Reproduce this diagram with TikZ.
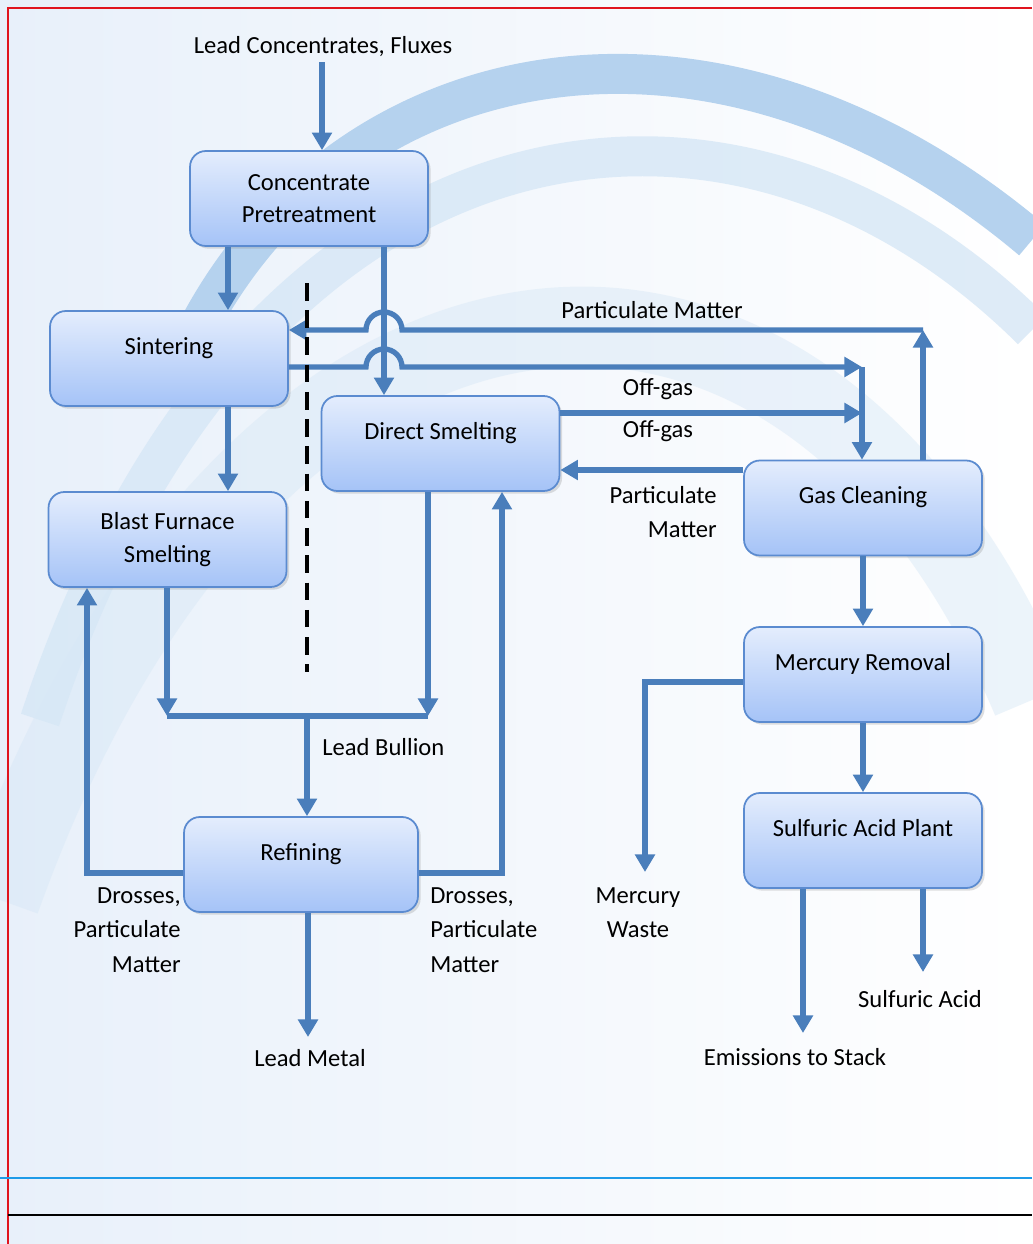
\documentclass[tikz,border=0pt]{standalone}
\usepackage{fontspec}
\setmainfont{Carlito}
\usetikzlibrary{arrows.meta,shadows}
\definecolor{flowblue}{HTML}{4A7EBB}
\definecolor{boxedge}{HTML}{5B8BD0}
\definecolor{boxtop}{HTML}{E4EDFD}
\definecolor{boxbottom}{HTML}{A5C3F7}
\definecolor{bgleft}{HTML}{E8F0FA}
\definecolor{swooshdark}{HTML}{B5D2EE}
\definecolor{swooshlight}{HTML}{D6E7F6}
\definecolor{pagered}{HTML}{E0141E}
\definecolor{ruleblue}{HTML}{1E9BE8}
\tikzset{
  procbox/.style={draw=boxedge, line width=1pt, rounded corners=9pt,
    top color=boxtop, bottom color=boxbottom,
    minimum width=4.76cm, minimum height=1.9cm, align=center,
    drop shadow={opacity=0.25, shadow xshift=1.5pt, shadow yshift=-1.5pt},
    font=\fontsize{14}{18.5}\selectfont},
  flow/.style={draw=flowblue, line width=3pt, -{Triangle[width=11pt,length=10pt]}},
  flowline/.style={draw=flowblue, line width=3pt},
  lbl/.style={font=\fontsize{14}{19.5}\selectfont, inner sep=0pt}
}
\begin{document}
\begin{tikzpicture}[x=0.02cm, y=-0.02cm]
        \useasboundingbox (0,0) rectangle (1032,1244);
        \fill[left color=bgleft, right color=white] (0,0) rectangle (1032,1244);

        % background swooshes
        \draw[swooshlight, line width=1.6cm, opacity=0.45] (0,900) .. controls (250,200) and (800,150) .. (1032,700);
        \draw[swooshlight, line width=0.8cm, opacity=0.8] (40,720) .. controls (240,110) and (720,20) .. (1032,330);
        \draw[swooshdark, line width=0.8cm] (170,390) .. controls (300,50) and (700,-40) .. (1032,240);

        % page rules
        \draw[pagered, line width=1.2pt] (8,1244) -- (8,8) -- (1032,8);
        \draw[ruleblue, line width=1.2pt] (0,1178) -- (1032,1178);
        \draw[black, line width=1pt] (8,1215) -- (1032,1215);

        % process boxes
        \node[procbox] (conc) at (309,198.5) {Concentrate\\Pretreatment};
        \node[procbox] (sint) at (169,358.5) {Sintering\\[-4pt]~};
        \node[procbox] (blast) at (167.5,539.5) {Blast Furnace\\Smelting};
        \node[procbox] (direct) at (440.5,443.5) {Direct Smelting\\[-4pt]~};
        \node[procbox] (gas) at (863,508) {Gas Cleaning\\[-4pt]~};
        \node[procbox] (merc) at (863,674.5) {Mercury Removal\\[-4pt]~};
        \node[procbox] (sulf) at (863,840.5) {Sulfuric Acid Plant\\[-4pt]~};
        \node[procbox, minimum width=4.68cm] (refin) at (301,864.5) {Refining\\[-4pt]~};

        % stream labels
        \node[lbl] (feed) at (323,47) {Lead Concentrates, Fluxes};
        \node[lbl] (pmtop) at (652,310) {Particulate Matter};
        \node[lbl] (offgas1) at (658,389) {Off-gas};
        \node[lbl] (offgas2) at (658,431) {Off-gas};
        \node[lbl, align=right, anchor=east] (pmgas) at (717,512) {Particulate\\Matter};
        \node[lbl, align=center] (hgwaste) at (638,913) {Mercury\\Waste};
        \node[lbl] (stack) at (795,1057) {Emissions to Stack};
        \node[lbl] (acid) at (920,999) {Sulfuric Acid};
        \node[lbl, anchor=west] (bullion) at (322,747) {Lead Bullion};
        \node[lbl] (metal) at (310,1058) {Lead Metal};
        \node[lbl, align=right, anchor=east] (drossl) at (181,930) {Drosses,\\Particulate\\Matter};
        \node[lbl, align=left, anchor=west] (drossr) at (430,930) {Drosses,\\Particulate\\Matter};

        % track points
        \coordinate (feedin) at (322,62);
        \coordinate (sinttrack) at (228,0);
        \coordinate (directtrack) at (384,0);
        \coordinate (pmcorner) at (923,330);
        \coordinate (ogcorner) at (862,367);
        \coordinate (og2end) at (862,413);
        \coordinate (pmgastrack) at (0,470);
        \coordinate (hgbend) at (645,682);
        \coordinate (hgend) at (645,872);
        \coordinate (stackend) at (803,1033);
        \coordinate (acidend) at (923,972);
        \coordinate (barleft) at (167,716);
        \coordinate (barright) at (428,716);
        \coordinate (barmid) at (307,716);
        \coordinate (drossleft) at (87,873);
        \coordinate (drossright) at (502,873);
        \coordinate (metalend) at (308,1037);
        \coordinate (divtop) at (307,283);
        \coordinate (divbot) at (307,672);

        % connectors
        \draw[flow] (feedin) -- (conc.north -| feedin);
        \draw[flow] (conc.south -| sinttrack) -- (sint.north -| sinttrack);
        \draw[flow] (sint.south -| sinttrack) -- (blast.north -| sinttrack);
        \draw[flow] (conc.south -| directtrack) -- (direct.north -| directtrack);

        \draw[flow] (gas.north -| pmcorner) -- (pmcorner);
        \draw[flow] (pmcorner) -- (402,330) arc[start angle=0, end angle=180, radius=0.36cm] -- (sint.east |- pmcorner);
        \draw[flow] (sint.east |- ogcorner) -- (366,367) arc[start angle=180, end angle=0, radius=0.36cm] -- (ogcorner);
        \draw[flow] (ogcorner) -- (gas.north -| ogcorner);
        \draw[flow] (direct.east |- og2end) -- (og2end);
        \draw[flow] (gas.west |- pmgastrack) -- (direct.east |- pmgastrack);

        \draw[flow] (gas.south) -- (merc.north);
        \draw[flow] (merc.west |- hgbend) -- (hgbend) -- (hgend);
        \draw[flow] (merc.south) -- (sulf.north);
        \draw[flow] (sulf.south -| stackend) -- (stackend);
        \draw[flow] (sulf.south -| acidend) -- (acidend);

        \draw[flow] (blast.south -| barleft) -- (barleft);
        \draw[flow] (direct.south -| barright) -- (barright);
        \draw[flowline] (barleft) -- (barright);
        \draw[flow] (barmid) -- (refin.north -| barmid);
        \draw[flow] (refin.west |- drossleft) -- (drossleft) -- (blast.south -| drossleft);
        \draw[flow] (refin.east |- drossright) -- (drossright) -- (direct.south -| drossright);
        \draw[flow] (refin.south -| metalend) -- (metalend);

        \draw[black, line width=2pt, dash pattern=on 10pt off 5.5pt] (divtop) -- (divbot);
\end{tikzpicture}
\end{document}
